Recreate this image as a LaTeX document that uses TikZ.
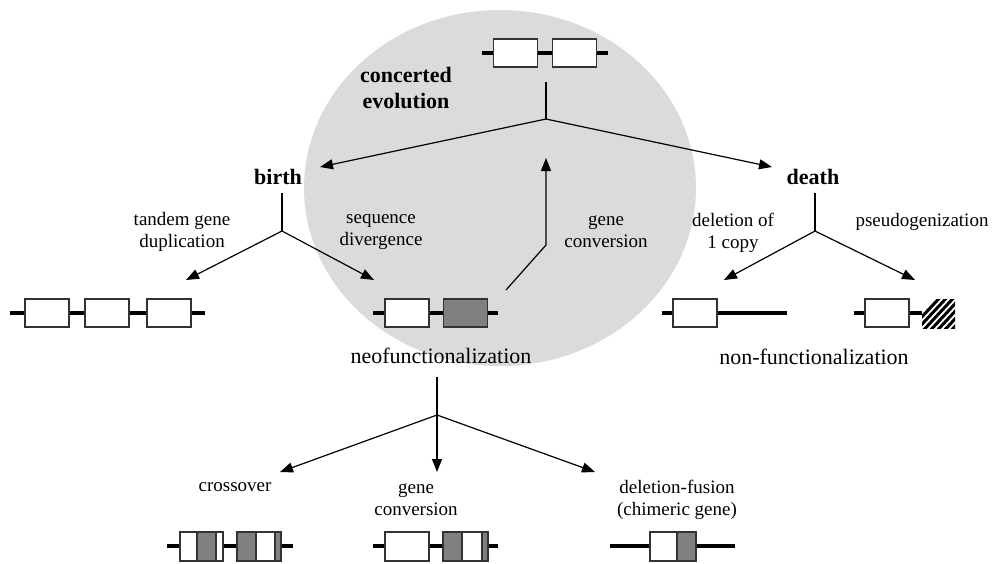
\documentclass[tikz,border=0pt]{standalone}
\usepackage{fontspec}
\setmainfont{Liberation Serif}
\usetikzlibrary{arrows.meta}
\definecolor{cloud}{gray}{0.86}
\definecolor{exongray}{gray}{0.5}
\tikzset{
  dna/.style={line width=4pt},
  exon/.style={draw=black!80, line width=1.2pt, fill=white, minimum width=44pt, minimum height=28pt, inner sep=0pt},
  seg/.style={draw=black!80, line width=1.2pt},
  lbl/.style={font=\fontsize{19}{22}\selectfont, align=center, inner sep=0pt},
  bigl/.style={font=\fontsize{22}{26}\selectfont, align=center, inner sep=0pt},
  head/.style={font=\bfseries\fontsize{22}{26}\selectfont, align=center, inner sep=0pt},
  stem/.style={line width=1.1pt},
  arr/.style={line width=1.2pt, -{Triangle[length=13pt,width=10pt]}},
}
\begin{document}
\begin{tikzpicture}[x=1pt,y=-1pt]
    \useasboundingbox (0,0) rectangle (993,563);
    \fill[cloud] (500,188) ellipse [x radius=196pt, y radius=178pt];
    % top pair
    \draw[dna] (482,53) -- (608,53);
    \node[exon] (top1) at (515.5,53) {};
    \node[exon] (top2) at (574.5,53) {};
    \node[head] (conc) at (406,88) {concerted\\evolution};
    % labels
    \node[head] (birth) at (278,177) {birth};
    \node[head] (death) at (813,177) {death};
    \node[lbl] (tandem) at (182,232) {tandem gene\\duplication};
    \node[lbl] (seqdiv) at (381,232) {sequence\\divergence};
    \node[lbl] (gconv) at (606,232) {gene\\conversion};
    \node[lbl] (delone) at (733,233) {deletion of\\1 copy};
    \node[lbl] (pseudo) at (922,222) {pseudogenization};
    \node[bigl] (neo) at (441,356) {neofunctionalization};
    \node[bigl] (nonf) at (814,357) {non-functionalization};
    \node[lbl] (cross) at (235,487) {crossover};
    \node[lbl] (gconvb) at (416,500) {gene\\conversion};
    \node[lbl] (delfus) at (677,500) {deletion-fusion\\(chimeric gene)};
    % top fork
    \coordinate (topstem) at (546,82);
    \coordinate (topfork) at (546,119);
    \coordinate (tobirth) at (320,167);
    \coordinate (todeath) at (772,167);
    \draw[stem] (topstem) -- (topfork);
    \draw[arr] (topfork) -- (tobirth);
    \draw[arr] (topfork) -- (todeath);
    % birth fork
    \coordinate (bstem) at (282,193);
    \coordinate (bfork) at (282,231);
    \coordinate (totandem) at (186,280);
    \coordinate (toneo) at (374,280);
    \draw[stem] (bstem) -- (bfork);
    \draw[arr] (bfork) -- (totandem);
    \draw[arr] (bfork) -- (toneo);
    % death fork
    \coordinate (dstem) at (815,193);
    \coordinate (dfork) at (815,231);
    \coordinate (todel) at (724,280);
    \coordinate (topseudo) at (915,280);
    \draw[stem] (dstem) -- (dfork);
    \draw[arr] (dfork) -- (todel);
    \draw[arr] (dfork) -- (topseudo);
    % gene conversion back to top
    \coordinate (gcstart) at (506,290);
    \coordinate (gcbend) at (546,245);
    \coordinate (gcend) at (546,158);
    \draw[arr] (gcstart) -- (gcbend) -- (gcend);
    % neo fork
    \coordinate (nstem) at (437,377);
    \coordinate (nfork) at (437,415);
    \draw[stem] (nstem) -- (nfork);
    \draw[arr] (nfork) -- (280,472);
    \draw[arr] (nfork) -- (437,472);
    \draw[arr] (nfork) -- (595,472);
    % tandem row
    \draw[dna] (10,313) -- (205,313);
    \node[exon] (tan1) at (47,313) {};
    \node[exon] (tan2) at (107,313) {};
    \node[exon] (tan3) at (169,313) {};
    % neo row
    \draw[dna] (373,313) -- (498,313);
    \node[exon] (neo1) at (407,313) {};
    \node[exon, fill=exongray] (neo2) at (465.5,313) {};
    % deletion row
    \draw[dna] (662,313) -- (787,313);
    \node[exon] (del1) at (695,313) {};
    % pseudogene row
    \draw[dna] (854,313) -- (922,313);
    \node[exon] (psd1) at (887,313) {};
    \begin{scope}
        \clip (922,299) rectangle (955,328);
        \foreach \k in {0,7,...,70}
            \draw[line width=3pt] (905+\k,335) -- (945+\k,292);
    \end{scope}
    % crossover row
    \draw[dna] (167,546) -- (293,546);
    \draw[seg, fill=white] (180,532) rectangle (197,561);
    \draw[seg, fill=exongray] (197,532) rectangle (216,561);
    \draw[seg, fill=white] (216,532) rectangle (223,561);
    \draw[seg, fill=exongray] (237,532) rectangle (256,561);
    \draw[seg, fill=white] (256,532) rectangle (275,561);
    \draw[seg, fill=exongray] (275,532) rectangle (281,561);
    % gene conversion row
    \draw[dna] (373,546) -- (498,546);
    \draw[seg, fill=white] (385,532) rectangle (429,561);
    \draw[seg, fill=exongray] (443,532) rectangle (462,561);
    \draw[seg, fill=white] (462,532) rectangle (482,561);
    \draw[seg, fill=exongray] (482,532) rectangle (488,561);
    % chimeric row
    \draw[dna] (610,546) -- (735,546);
    \draw[seg, fill=white] (650,532) rectangle (677,561);
    \draw[seg, fill=exongray] (677,532) rectangle (696,561);
\end{tikzpicture}
\end{document}
